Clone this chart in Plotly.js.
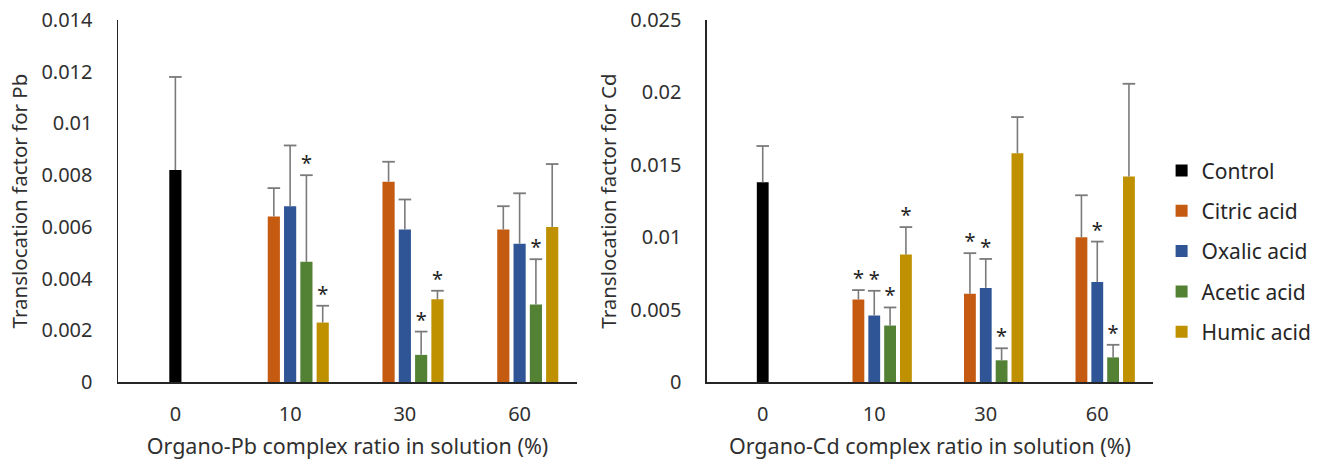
<!DOCTYPE html>
<html>
<head>
<meta charset="utf-8">
<script src="https://cdn.plot.ly/plotly-3.0.1.min.js"></script>
<style>
html,body{margin:0;padding:0;background:#fff;}
#chart{width:1317px;height:467px;}
</style>
</head>
<body>
<div id="chart"></div>
<script>
// ---- data ----
const categories = ['0', '10', '30', '60'];
const treatedCategories = ['10', '30', '60'];
const seriesNames = ['Control', 'Citric acid', 'Oxalic acid', 'Acetic acid', 'Humic acid'];

// Pb (left)
const pbControl = [0.0082];
const pbControlErr = [0.0036];
const pbCitric = [0.0064, 0.00775, 0.0059];
const pbCitricErr = [0.0011, 0.00077, 0.0009];
const pbOxalic = [0.0068, 0.0059, 0.00535];
const pbOxalicErr = [0.00235, 0.00116, 0.00195];
const pbAcetic = [0.00465, 0.00105, 0.0030];
const pbAceticErr = [0.00335, 0.0009, 0.00175];
const pbHumic = [0.0023, 0.0032, 0.0060];
const pbHumicErr = [0.00065, 0.00033, 0.00243];
const pbCitricSig = [0, 0, 0];
const pbOxalicSig = [0, 0, 0];
const pbAceticSig = [1, 1, 1];
const pbHumicSig = [1, 1, 0];

// Cd (right)
const cdControl = [0.0138];
const cdControlErr = [0.0025];
const cdCitric = [0.0057, 0.0061, 0.0100];
const cdCitricErr = [0.00065, 0.0028, 0.0029];
const cdOxalic = [0.0046, 0.0065, 0.0069];
const cdOxalicErr = [0.0017, 0.0020, 0.0028];
const cdAcetic = [0.0039, 0.0015, 0.0017];
const cdAceticErr = [0.00125, 0.00083, 0.00087];
const cdHumic = [0.0088, 0.0158, 0.0142];
const cdHumicErr = [0.0019, 0.0025, 0.0064];
const cdCitricSig = [1, 1, 0];
const cdOxalicSig = [1, 1, 1];
const cdAceticSig = [1, 1, 1];
const cdHumicSig = [1, 0, 0];

// ---- styles ----
const colors = ['#000000', '#C55A11', '#2F5597', '#548235', '#BF9000'];
const errColor = '#7a7a7a';
const barWidth = 0.106;
const slot = 0.142;
const slotOffsets = [0, -slot, 0, slot, 2 * slot]; // control centred at its category
const FONT = 'Noto Sans, Open Sans, sans-serif';

function build(xa, ya, ctrl, ctrlErr, vals, errs, sigs, showLegend) {
  const traces = [];
  const groups = [
    {cats: ['0'], v: ctrl, e: ctrlErr, s: ctrl.map(() => 0)}
  ];
  for (let i = 0; i < vals.length; i++) groups.push({cats: treatedCategories, v: vals[i], e: errs[i], s: sigs[i]});
  groups.forEach((g, k) => {
    const xs = g.cats.map(c => categories.indexOf(c) + slotOffsets[k]);
    traces.push({
      type: 'bar', name: seriesNames[k], x: xs, y: g.v, width: barWidth,
      xaxis: xa, yaxis: ya, marker: {color: colors[k], line: {width: 0}},
      legendgroup: 'g' + k, showlegend: showLegend, hoverinfo: 'skip',
      error_y: {type: 'data', symmetric: false, array: g.e, arrayminus: g.v.map(() => 0),
                width: 0, thickness: 1.6, color: errColor}
    });
    traces.push({
      type: 'scatter', mode: 'markers', x: xs, y: g.v.map((v, i) => v + g.e[i]),
      xaxis: xa, yaxis: ya, showlegend: false, hoverinfo: 'skip',
      marker: {symbol: 'line-ew', size: 9, color: errColor, line: {width: 1.8, color: errColor}}
    });
    const sx = [], sy = [];
    g.s.forEach((f, i) => { if (f) { sx.push(xs[i]); sy.push(g.v[i] + g.e[i]); } });
    if (sx.length) traces.push({
      type: 'scatter', mode: 'text', x: sx, y: sy, text: sx.map(() => '*'),
      textposition: 'top center', textfont: {family: FONT, size: 20, color: '#222'},
      xaxis: xa, yaxis: ya, showlegend: false, hoverinfo: 'skip', cliponaxis: false
    });
  });
  return traces;
}

const data = [].concat(
  build('x', 'y', pbControl, pbControlErr,
        [pbCitric, pbOxalic, pbAcetic, pbHumic], [pbCitricErr, pbOxalicErr, pbAceticErr, pbHumicErr],
        [pbCitricSig, pbOxalicSig, pbAceticSig, pbHumicSig], false),
  build('x2', 'y2', cdControl, cdControlErr,
        [cdCitric, cdOxalic, cdAcetic, cdHumic], [cdCitricErr, cdOxalicErr, cdAceticErr, cdHumicErr],
        [cdCitricSig, cdOxalicSig, cdAceticSig, cdHumicSig], true)
);

const tickFont = {family: FONT, size: 20, color: '#303030'};
function xAxis(domain, title, anchor) {
  return {domain: domain, anchor: anchor, range: [-0.5, 3.5],
    tickvals: categories.map((c, i) => i), ticktext: categories,
    showline: true, linecolor: '#262626', linewidth: 1.5, ticks: '', showgrid: false, zeroline: false,
    tickfont: tickFont, ticklabelstandoff: 13, fixedrange: true,
    title: {text: title, font: {family: FONT, size: 21.5, color: '#303030'}, standoff: 13}};
}
function yAxis(range, dtick, title, anchor) {
  return {domain: [0.182, 0.957], anchor: anchor, range: range, dtick: dtick, tick0: 0,
    showline: true, linecolor: '#262626', linewidth: 1.5, ticks: '', showgrid: false, zeroline: false,
    tickfont: tickFont, ticklabelstandoff: 20, fixedrange: true,
    title: {text: title, font: {family: FONT, size: 20.5, color: '#303030'}, standoff: 8}};
}

const layout = {
  width: 1317, height: 467,
  margin: {l: 0, r: 0, t: 0, b: 0},
  paper_bgcolor: '#fff', plot_bgcolor: '#fff',
  barmode: 'overlay',
  font: {family: FONT, color: '#303030'},
  xaxis: xAxis([0.0896, 0.4381], 'Organo-Pb complex ratio in solution (%)', 'y'),
  yaxis: yAxis([0, 0.014], 0.002, 'Translocation factor for Pb', 'x'),
  xaxis2: xAxis([0.5368, 0.8755], 'Organo-Cd complex ratio in solution (%)', 'y2'),
  yaxis2: yAxis([0, 0.025], 0.005, 'Translocation factor for Cd', 'x2'),
  legend: {x: 0.882, xanchor: 'left', y: 0.678, yanchor: 'top', traceorder: 'grouped',
           tracegroupgap: 10, font: {family: FONT, size: 21, color: '#262626'},
           bgcolor: 'rgba(0,0,0,0)', itemclick: false, itemdoubleclick: false},
  showlegend: true
};

Plotly.newPlot('chart', data, layout, {displayModeBar: false, staticPlot: true});
</script>
</body>
</html>
